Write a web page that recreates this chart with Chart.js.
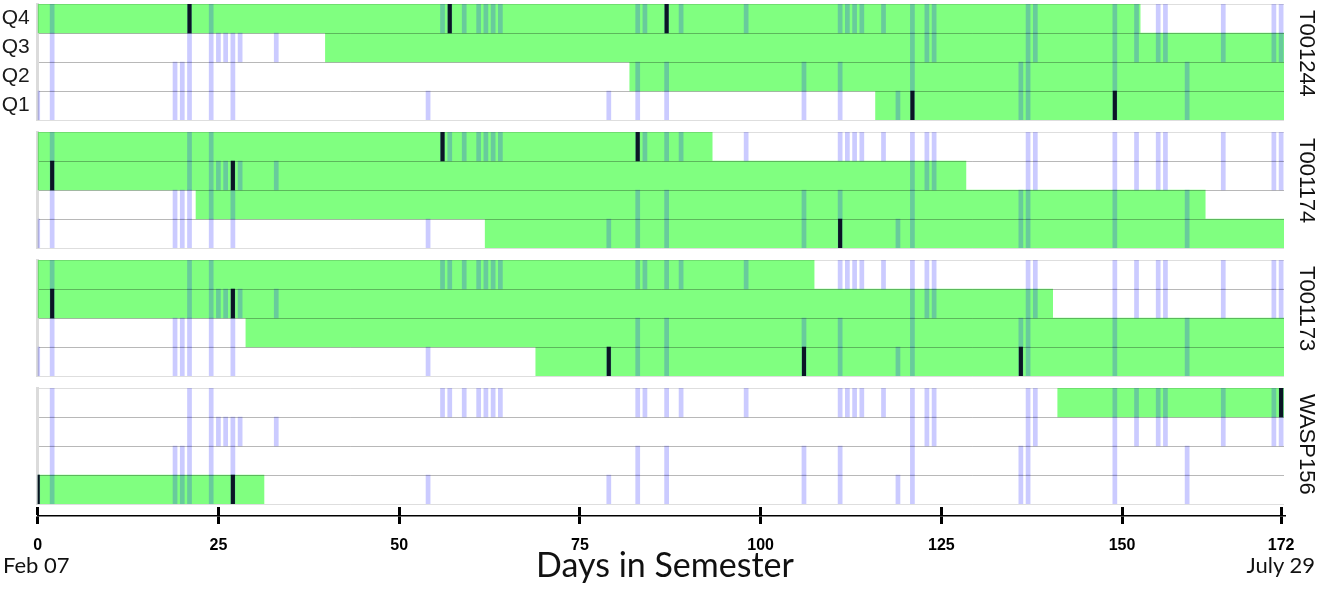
<!DOCTYPE html>
<html>
<head>
<meta charset="utf-8">
<title>Days in Semester</title>
<script src="https://cdn.jsdelivr.net/npm/chart.js@4.4.1/dist/chart.umd.min.js"></script>
<style>
  body { margin: 0; background: #fff; }
  #page { position: relative; width: 1324px; height: 593px; overflow: hidden; font-family: "Liberation Sans", Arial, sans-serif; }
  .panel { position: absolute; left: 0; width: 1324px; height: 120px; }
  .axis { position: absolute; left: 0; top: 490px; width: 1324px; height: 103px; }
  .target { position: absolute; left: 1294px; writing-mode: vertical-rl; font-size: 22px; line-height: 26px; color: #111; white-space: nowrap; }
  .note { position: absolute; font-family: Lato, sans-serif; color: #111; white-space: nowrap; }
</style>
</head>
<body>
<div id="page"></div>
<script>
// targets, top to bottom, and the quarter rows inside each one
const targets = ['T001244', 'T001174', 'T001173', 'WASP156'];
const quarters = ['Q4', 'Q3', 'Q2', 'Q1'];
const xTicks = [0, 25, 50, 75, 100, 125, 150, 172];
const xMax = 172.4;

// light blue days, the same in every target
const q4Days = [2, 21, 24, 56, 57, 59, 61, 62, 63, 64, 83, 84, 87, 89, 98, 111, 112, 113, 114, 117, 121, 123, 124, 137, 138, 149, 152, 155, 156, 164, 171, 172];
const q3Days = [2, 21, 24, 25, 26, 27, 28, 33, 121, 123, 124, 137, 138, 149, 152, 155, 156, 164, 171, 172];
const q2Days = [2, 19, 20, 21, 24, 27, 83, 87, 106, 111, 121, 136, 137, 149, 159];
const q1Days = [0, 2, 19, 20, 21, 24, 27, 54, 79, 83, 87, 106, 111, 119, 121, 136, 137, 149, 159];

// green coverage, one [start, end] per quarter (null = nothing)
const t001244Cover = [[0, 152.5], [39.8, 172.4], [81.9, 172.4], [115.9, 172.4]];
const t001174Cover = [[0, 93.3], [0, 128.4], [21.9, 161.5], [61.9, 172.4]];
const t001173Cover = [[0, 107.4], [0, 140.4], [28.8, 172.4], [68.9, 172.4]];
const wasp156Cover = [[141.1, 172.4], null, null, [0, 31.3]];

// black marks, one list per quarter
const t001244Marks = [[21, 57, 87], [], [], [121, 149]];
const t001174Marks = [[56, 83], [2, 27], [], [111]];
const t001173Marks = [[], [2, 27], [], [79, 106, 136]];
const wasp156Marks = [[172], [], [], [0, 27]];

const covers = [t001244Cover, t001174Cover, t001173Cover, wasp156Cover];
const marks = [t001244Marks, t001174Marks, t001173Marks, wasp156Marks];
const blueDays = [q4Days, q3Days, q2Days, q1Days];
const panelTops = [4, 132, 260, 388];

const page = document.getElementById('page');

// thin bars around each day so they look like lines
function dayBars(lists, half) {
    const out = [];
    lists.forEach((days, i) => {
        days.forEach(d => out.push({ y: quarters[i], x: [d - half, d + half] }));
    });
    return out;
}

function coverBars(cover) {
    const out = [];
    cover.forEach((range, i) => {
        if (range) out.push({ y: quarters[i], x: range });
    });
    return out;
}

targets.forEach((name, p) => {
    const box = document.createElement('div');
    box.className = 'panel';
    box.style.top = (panelTops[p] - 2) + 'px';
    const canvas = document.createElement('canvas');
    box.appendChild(canvas);
    page.appendChild(box);

    const label = document.createElement('div');
    label.className = 'target';
    label.style.top = (panelTops[p] + 6) + 'px';
    label.textContent = name;
    page.appendChild(label);

    new Chart(canvas.getContext('2d'), {
        type: 'bar',
        data: {
            labels: quarters,
            datasets: [
                {
                    label: 'marks',
                    data: dayBars(marks[p], 0.24),
                    backgroundColor: '#0b1526',
                    order: 0
                },
                {
                    label: 'days',
                    data: dayBars(blueDays, 0.28),
                    backgroundColor: 'rgba(20, 20, 255, 0.22)',
                    order: 1
                },
                {
                    label: 'coverage',
                    data: coverBars(covers[p]),
                    backgroundColor: '#80ff80',
                    order: 2
                }
            ]
        },
        options: {
            animation: false,
            responsive: true,
            maintainAspectRatio: false,
            indexAxis: 'y',
            layout: { padding: { top: 2, bottom: 2, left: 0, right: 40 } },
            plugins: {
                legend: { display: false },
                tooltip: { enabled: false }
            },
            datasets: {
                bar: { grouped: false, categoryPercentage: 1, barPercentage: 1, borderWidth: 0 }
            },
            scales: {
                x: { type: 'linear', min: 0, max: xMax, offset: false, display: false },
                y: {
                    type: 'category',
                    offset: true,
                    grid: {
                        offset: true,
                        z: 1,
                        drawTicks: false,
                        lineWidth: 1,
                        // outer edges are lighter than the row separators
                        color: ctx => (ctx.index === 0 || ctx.index == null) ? 'rgba(0,0,0,0.13)' : 'rgba(0,0,0,0.28)'
                    },
                    border: { color: 'rgba(0,0,0,0.14)', width: 3, z: 1 },
                    ticks: {
                        display: p === 0,
                        padding: 8,
                        color: '#1a1a1a',
                        font: { family: 'Liberation Sans', size: 21 }
                    },
                    afterFit: scale => {
                        scale.width = 37.7;
                        scale.paddingTop = 0;
                        scale.paddingBottom = 0;
                    }
                }
            }
        }
    });
});

// shared day axis under the last target
const axisBox = document.createElement('div');
axisBox.className = 'axis';
const axisCanvas = document.createElement('canvas');
axisBox.appendChild(axisCanvas);
page.appendChild(axisBox);

new Chart(axisCanvas.getContext('2d'), {
    type: 'line',
    data: { datasets: [] },
    options: {
        animation: false,
        responsive: true,
        maintainAspectRatio: false,
        layout: { padding: { top: 17, left: 37.7, right: 40, bottom: 0 } },
        plugins: { legend: { display: false }, tooltip: { enabled: false } },
        scales: {
            x: {
                type: 'linear',
                min: 0,
                max: xMax,
                offset: false,
                afterBuildTicks: scale => { scale.ticks = xTicks.map(v => ({ value: v })); },
                grid: { color: '#000', lineWidth: 3, tickLength: 8, drawOnChartArea: true, offset: false },
                border: { color: '#000', width: 1.5 },
                ticks: {
                    color: '#000',
                    padding: 12,
                    autoSkip: false,
                    maxRotation: 0,
                    font: { family: 'Liberation Sans', size: 16, weight: 'bold' }
                },
                afterFit: scale => { scale.height = 77; }
            },
            y: { display: false }
        }
    }
});

// date notes and axis title
function addNote(text, css) {
    const el = document.createElement('div');
    el.className = 'note';
    el.textContent = text;
    Object.assign(el.style, css);
    page.appendChild(el);
}
addNote('Feb 07', { left: '3px', top: '551px', fontSize: '22px' });
addNote('July 29', { right: '9px', top: '551px', fontSize: '22px' });
addNote('Days in Semester', { left: '0', width: '1330px', textAlign: 'center', top: '543px', fontSize: '34px' });
</script>
</body>
</html>
